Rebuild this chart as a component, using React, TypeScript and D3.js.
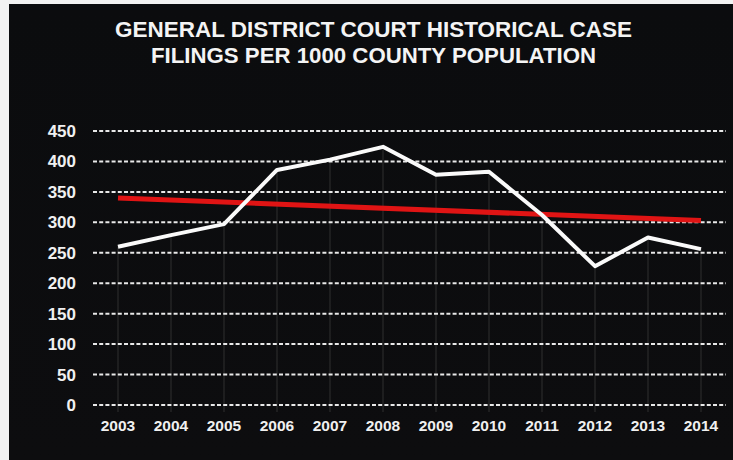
import React from "react";
import * as d3 from "d3";

const years = ["2003","2004","2005","2006","2007","2008","2009","2010","2011","2012","2013","2014"];
const filings = [260, 279, 297, 386, 403, 424, 378, 383, 312, 228, 275, 256];
const trendYears = ["2003", "2014"];
const trendValues = [340, 303];
const yTicks = [0, 50, 100, 150, 200, 250, 300, 350, 400, 450];
const titleLines = ["GENERAL DISTRICT COURT HISTORICAL CASE", "FILINGS PER 1000 COUNTY POPULATION"];

export default function App() {
  const W = 733, H = 460;
  const x = d3.scalePoint<string>().domain(years).range([118, 701]);
  const y = d3.scaleLinear().domain([0, 450]).range([405, 131]);
  const line = d3.line<number>().x((_, i) => x(years[i])!).y(d => y(d));
  const trend = d3.line<number>().x((_, i) => x(trendYears[i])!).y(d => y(d));
  const font = "'Liberation Sans', Arial, Helvetica, sans-serif";
  const titleLens = [517, 445];
  return (
    <svg width={W} height={H} style={{ position: "absolute", left: 0, top: 0, display: "block" }}>
      <defs>
        <linearGradient id="bg" x1="0" y1="0" x2="0" y2="1">
          <stop offset="0" stopColor="#0b0c0e" />
          <stop offset="1" stopColor="#0d0d0f" />
        </linearGradient>
      </defs>
      <rect x={0} y={0} width={W} height={H} fill="#f2f2f2" />
      <rect x={9} y={4} width={W - 9} height={H - 4} fill="url(#bg)" />
      {titleLines.map((t, i) => (
        <text key={t} x={373.5} y={37 + i * 26} textAnchor="middle" fill="#f4f4f4"
          fontFamily={font} fontWeight="bold" fontSize={22.5}
          textLength={titleLens[i]} lengthAdjust="spacingAndGlyphs">{t}</text>
      ))}
      {years.map((yr, i) => (
        <line key={"v" + yr} x1={x(yr)} x2={x(yr)} y1={y(filings[i])} y2={412}
          stroke="#2a2a2a" strokeWidth={1.2} />
      ))}
      {yTicks.map(t => (
        <g key={"g" + t}>
          <line x1={93} x2={726} y1={y(t)} y2={y(t)} stroke="#e8e8e8" strokeWidth={2}
            strokeDasharray="4,2.2" />
          <text x={76} y={y(t) + 6} textAnchor="end" fill="#f0f0f0" fontFamily={font}
            fontWeight="bold" fontSize={17}>{t}</text>
        </g>
      ))}
      {years.map(yr => (
        <text key={"x" + yr} x={x(yr)} y={431} textAnchor="middle" fill="#f0f0f0"
          fontFamily={font} fontWeight="bold" fontSize={15.5}>{yr}</text>
      ))}
      <path d={trend(trendValues) || ""} fill="none" stroke="#e01414" strokeWidth={5} />
      <path d={line(filings) || ""} fill="none" stroke="#fafafa" strokeWidth={4}
        strokeLinejoin="round" />
    </svg>
  );
}
